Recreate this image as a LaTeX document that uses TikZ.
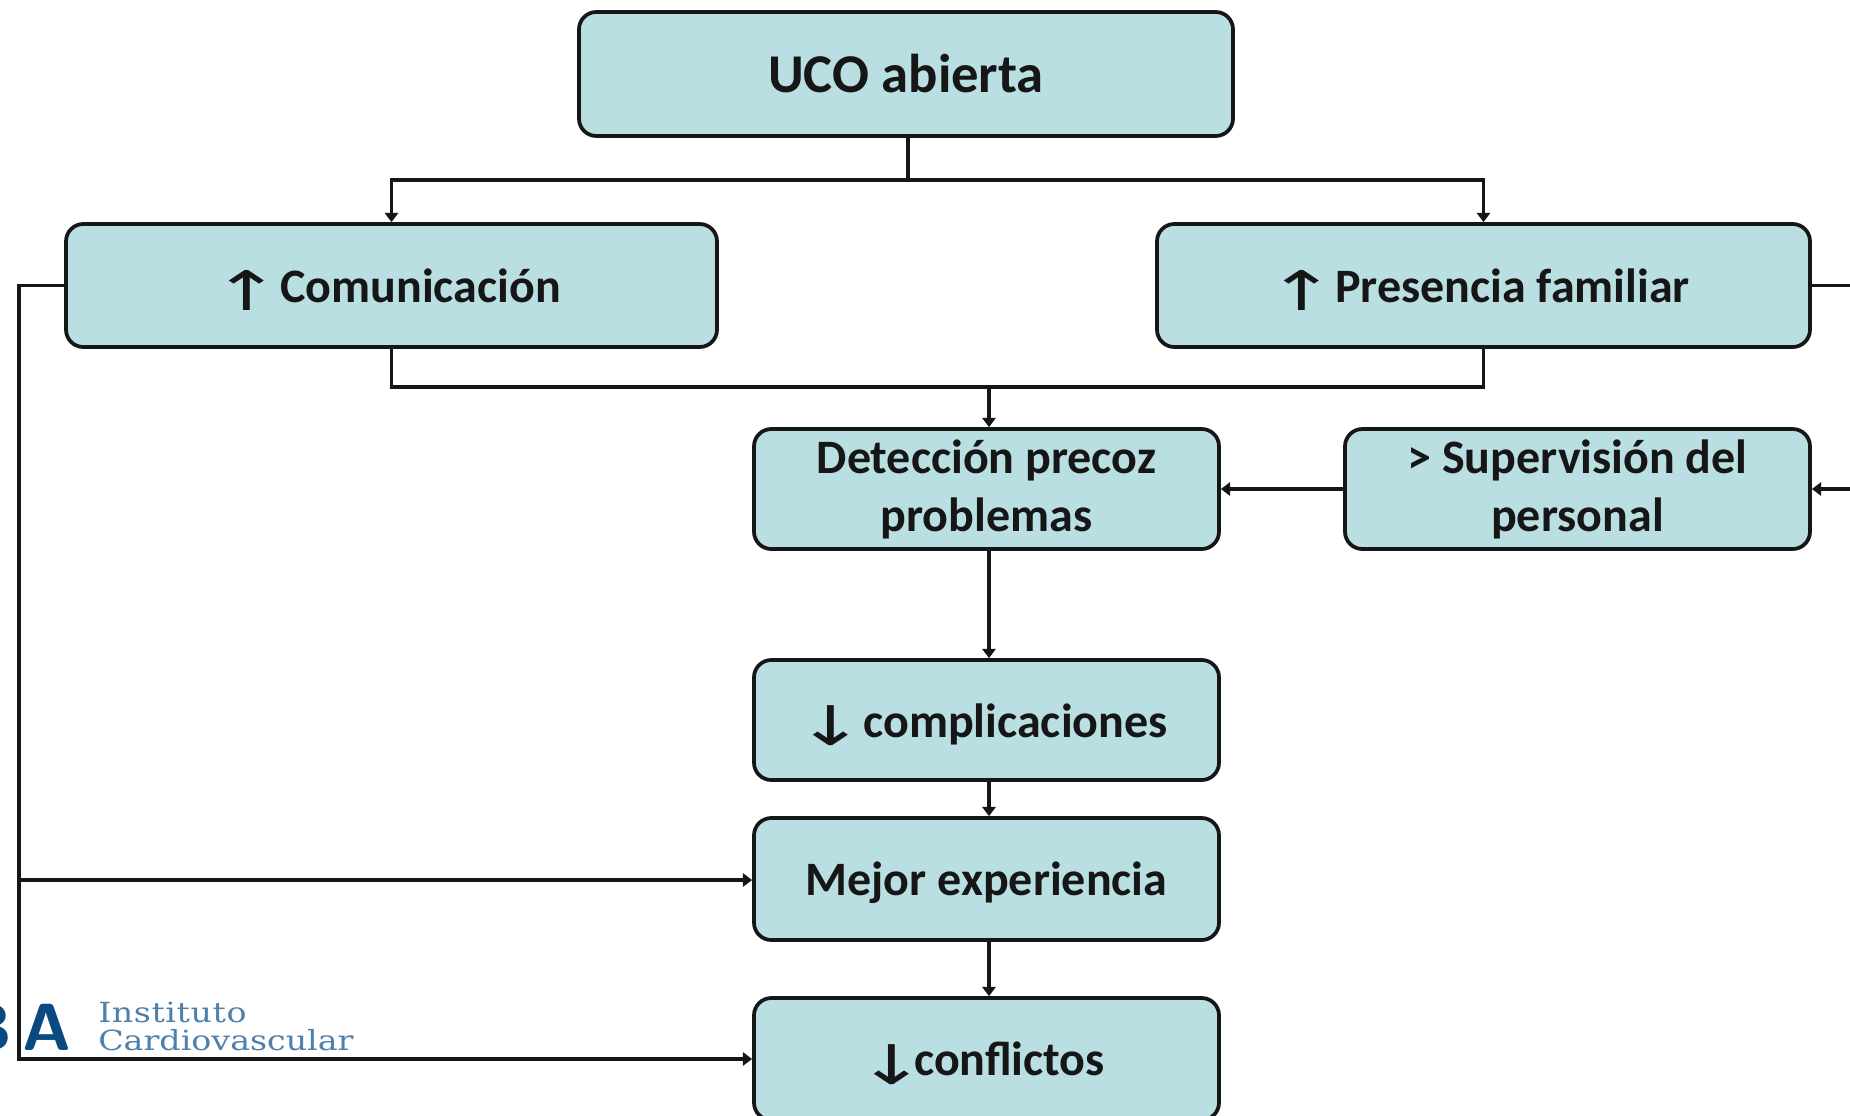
\documentclass[tikz,border=0pt]{standalone}
\usepackage{fontspec}
\setmainfont{Carlito}
\newfontfamily\arrowfont[FakeStretch=1.5]{DejaVu Sans}
\newfontfamily\logofont[FakeStretch=1.2]{DejaVu Serif}
\usetikzlibrary{arrows.meta,calc}
\definecolor{boxfill}{HTML}{B9DFE2}
\definecolor{ink}{HTML}{161616}
\definecolor{logoblue}{HTML}{0B4A80}
\definecolor{logotext}{HTML}{4F80AB}
\newcommand{\upa}{\smash{\raisebox{-6pt}{\arrowfont\mdseries\fontsize{41pt}{41pt}\selectfont ↑}}}
\newcommand{\dna}{\smash{\raisebox{-6.5pt}{\arrowfont\mdseries\fontsize{41pt}{41pt}\selectfont ↓}}}
\newcommand{\lowerstrut}{\rule{0pt}{31.5pt}}
\newcommand{\trailgap}[1]{\rule{#1}{0pt}}
\tikzset{
  flowbox/.style={draw=ink,fill=boxfill,line width=2.8pt,rounded corners=13pt,inner sep=0pt,
    text=ink,align=center,font=\bfseries\fontsize{36pt}{43.5pt}\selectfont,anchor=center},
  wire/.style={draw=ink,line width=2.8pt},
  arrowwire/.style={wire,-{Triangle[length=7pt,width=10pt]}},
  logotxt/.style={inner sep=0pt,anchor=base west,text=logotext,font=\logofont\fontsize{20.8pt}{20.8pt}\selectfont}
}
\begin{document}
\begin{tikzpicture}[x=0.75pt,y=-0.75pt]
\useasboundingbox (0,0) rectangle (1850,1115);
\clip (0,0) rectangle (1850,1115);
\fill[white] (0,0) rectangle (1850,1115);
% logo
\node[inner sep=0pt,anchor=base east,text=logoblue,font=\sffamily\bfseries\fontsize{50pt}{50pt}\selectfont] (logoba) at (72,1050) {B\kern 8pt A};
\node[logotxt] (logoa) at (98,1022) {\addfontfeature{LetterSpace=2}Instituto};
\node[logotxt] (logob) at (98,1050) {Cardiovascular};
% boxes
\node[flowbox,font=\bfseries\fontsize{41pt}{43.5pt}\selectfont,minimum width=654*0.75pt,minimum height=124*0.75pt] (uco) at (906,74) {UCO abierta};
\node[flowbox,minimum width=651*0.75pt,minimum height=123*0.75pt] (com) at (391.5,285.5) {\upa\kern -1pt Comunicación\trailgap{7pt}};
\node[flowbox,minimum width=653*0.75pt,minimum height=123*0.75pt] (pres) at (1483.5,285.5) {\upa\kern -1pt Presencia familiar\trailgap{7pt}};
\node[flowbox,minimum width=465*0.75pt,minimum height=120*0.75pt] (det) at (986.5,489) {Detección precoz\\problemas};
\node[flowbox,minimum width=465*0.75pt,minimum height=120*0.75pt] (sup) at (1577.5,489) {> Supervisión del\\personal};
\node[flowbox,minimum width=465*0.75pt,minimum height=120*0.75pt] (comp) at (986.5,720) {\lowerstrut\dna\kern -1pt complicaciones\trailgap{7pt}};
\node[flowbox,minimum width=465*0.75pt,minimum height=122*0.75pt] (mej) at (986.5,879) {\lowerstrut Mejor experiencia};
\node[flowbox,minimum width=465*0.75pt,minimum height=122*0.75pt] (conf) at (986.5,1059) {\dna\kern -9pt conflictos\trailgap{8pt}};
% routing points
\coordinate (topbar) at (908,180);
\coordinate (joinbar) at (989,387);
\coordinate (leftbar) at (19,880);
\coordinate (edgea) at (1850,285.5);
\coordinate (edgeb) at (1850,489);
% connectors
\draw[wire] (uco.south -| topbar) -- (topbar);
\draw[arrowwire] (topbar) -| (com.north);
\draw[arrowwire] (topbar) -| (pres.north);
\draw[wire] (com.south) |- (joinbar);
\draw[wire] (pres.south) |- (joinbar);
\draw[arrowwire] (joinbar) -- (joinbar |- det.north);
\draw[arrowwire] (joinbar |- det.south) -- (joinbar |- comp.north);
\draw[arrowwire] (joinbar |- comp.south) -- (joinbar |- mej.north);
\draw[arrowwire] (joinbar |- mej.south) -- (joinbar |- conf.north);
\draw[arrowwire] (sup.west) -- (det.east);
\draw[wire] (pres.east) -- (edgea);
\draw[arrowwire] (edgeb) -- (sup.east);
\draw[arrowwire] (com.west) -| (leftbar |- conf.west) -- (conf.west);
\draw[arrowwire] (leftbar) -- (leftbar -| mej.west);
\end{tikzpicture}
\end{document}
